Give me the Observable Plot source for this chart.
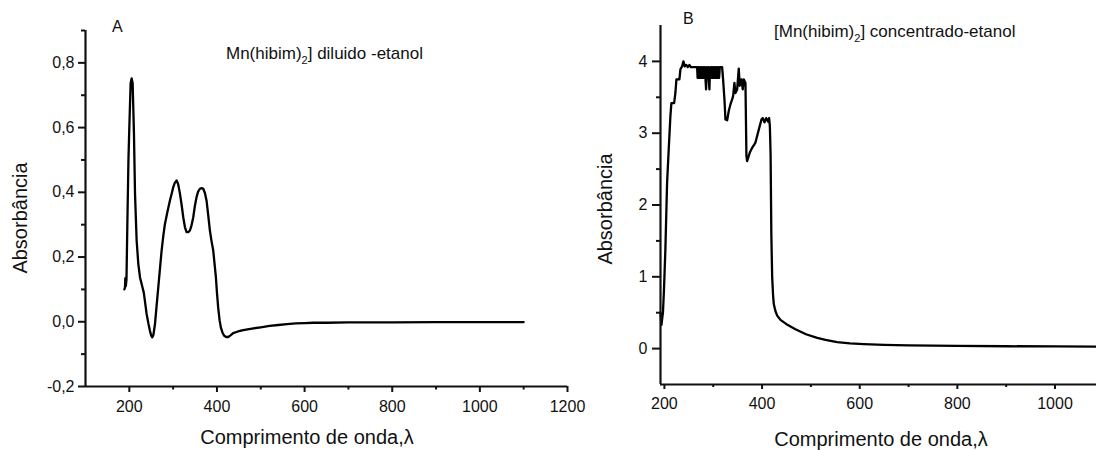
<!DOCTYPE html>
<html>
<head>
<meta charset="utf-8">
<script src="https://cdn.jsdelivr.net/npm/d3@7"></script>
<script src="https://cdn.jsdelivr.net/npm/@observablehq/plot@0.6"></script>
<style>
  html, body { margin: 0; padding: 0; background: #fff; }
  #wrap { position: relative; width: 1096px; height: 450px; overflow: hidden; background: #fff; display: flex; flex-direction: row; align-items: flex-start; }
  #wrap > svg.plotpanel { flex: none; display: block; }
  #overlay { position: absolute; left: 0; top: 0; pointer-events: none; }
</style>
</head>
<body>
<div id="wrap"></div>
<script>
// ---- Panel A: Mn(hibim)2 diluido - etanol ----
const waveA = [188.6, 190, 191, 192, 193.5, 195.5, 198, 200, 203, 205.3, 207.6, 210.6, 213, 216.7, 220.5, 224.4, 229, 233, 236, 239.5, 243.5, 247.1, 250, 252.4, 255, 258.6, 262, 266.1, 270, 273.7, 277.5, 281.4, 287, 292.7, 296.5, 300.3, 304, 307.9, 311.5, 315.5, 319.5, 323.1, 327, 330.7, 334.5, 338.3, 342, 345.9, 349.5, 353.4, 357, 361.1, 365, 368.7, 372.5, 376.2, 380, 383.9, 387.5, 391.5, 394.5, 397.6, 400, 402.8, 406, 409, 412.5, 416.5, 421, 425.6, 431, 437, 448, 460, 480, 500, 520, 540, 560, 580, 600, 620, 650, 700, 800, 900, 1000, 1100];
const absA  = [0.100, 0.105, 0.135, 0.110, 0.130, 0.300, 0.500, 0.600, 0.737, 0.752, 0.737, 0.580, 0.396, 0.251, 0.179, 0.137, 0.112, 0.090, 0.060, 0.024, -0.005, -0.028, -0.043, -0.048, -0.040, -0.007, 0.045, 0.106, 0.165, 0.220, 0.265, 0.303, 0.340, 0.375, 0.395, 0.416, 0.430, 0.437, 0.425, 0.396, 0.360, 0.323, 0.292, 0.277, 0.277, 0.282, 0.298, 0.323, 0.357, 0.385, 0.402, 0.411, 0.413, 0.411, 0.398, 0.375, 0.330, 0.282, 0.250, 0.220, 0.180, 0.137, 0.090, 0.044, 0.005, -0.018, -0.033, -0.043, -0.047, -0.047, -0.042, -0.035, -0.030, -0.026, -0.021, -0.017, -0.013, -0.010, -0.007, -0.005, -0.004, -0.003, -0.003, -0.002, -0.002, -0.001, -0.001, -0.001];

// ---- Panel B: [Mn(hibim)2] concentrado - etanol ----
const waveB = [192, 193, 194, 195.5, 197, 199, 202, 205.5, 208.8, 212.3, 214.3, 219.9, 222.5, 224.6, 230.7, 232.8, 236.2, 238.9, 241.7, 245.1, 247.8, 251.2, 254, 267, 268, 269.5, 270.5, 272, 273, 274.5, 276, 277, 278.5, 279.5, 281, 282.5, 284, 285.4, 286.5, 288, 289.5, 290.5, 292.2, 293.5, 295, 296.5, 297.5, 299, 300.5, 302, 303, 304.5, 306, 307.5, 309, 310.5, 312, 313.5, 315, 318.2, 320.2, 323, 325, 328.5, 331.8, 335.2, 338.7, 340.8, 343.4, 345.5, 349, 352.3, 354.3, 357.8, 360.5, 362.5, 366, 368, 369.4, 374.9, 380, 386.5, 393.3, 398.8, 401.5, 405, 408.4, 412.5, 414.5, 416, 417.5, 419, 420.7, 422.5, 424, 427.5, 431, 437.7, 450, 468.4, 490, 513, 530, 553.8, 580, 608, 650, 700, 800, 900, 1000, 1085];
const absB  = [0.50, 0.40, 0.33, 0.42, 0.50, 0.80, 1.38, 2.31, 2.77, 3.24, 3.42, 3.42, 3.56, 3.75, 3.75, 3.89, 3.93, 4.00, 3.93, 3.95, 3.92, 3.95, 3.92, 3.92, 3.77, 3.92, 3.77, 3.77, 3.92, 3.77, 3.92, 3.77, 3.77, 3.92, 3.77, 3.92, 3.77, 3.61, 3.92, 3.77, 3.92, 3.77, 3.61, 3.92, 3.77, 3.92, 3.77, 3.92, 3.77, 3.92, 3.77, 3.92, 3.77, 3.92, 3.77, 3.92, 3.77, 3.92, 3.92, 3.92, 3.75, 3.47, 3.19, 3.18, 3.31, 3.40, 3.47, 3.52, 3.70, 3.56, 3.61, 3.90, 3.66, 3.75, 3.61, 3.75, 3.70, 2.68, 2.61, 2.73, 2.80, 2.87, 3.05, 3.19, 3.21, 3.15, 3.21, 3.16, 3.21, 3.10, 2.70, 1.60, 1.00, 0.75, 0.62, 0.52, 0.46, 0.40, 0.34, 0.27, 0.20, 0.15, 0.12, 0.09, 0.072, 0.062, 0.053, 0.046, 0.038, 0.033, 0.030, 0.028];

// ticks
const xTicksA = [200, 400, 600, 800, 1000, 1200];
const xMinorA = [300, 500, 700, 900, 1100];
const yTicksA = [-0.2, 0, 0.2, 0.4, 0.6, 0.8];
const yMinorA = [-0.1, 0.1, 0.3, 0.5, 0.7, 0.9];
const xTicksB = [200, 400, 600, 800, 1000];
const xMinorB = [300, 500, 700, 900];
const yTicksB = [0, 1, 2, 3, 4];
const yMinorB = [0.5, 1.5, 2.5, 3.5];

const FONT = "'Liberation Sans', Arial, Helvetica, sans-serif";
const INK = "#111";
const commaFmt = d => d.toFixed(1).replace(".", ",");
const blank = () => "";

const dataA = waveA.map((w, i) => ({w, a: absA[i]}));
const dataB = waveB.map((w, i) => ({w, a: absB[i]}));

const baseStyle = {fontFamily: FONT, fontSize: "16px", color: INK, background: "transparent", overflow: "visible", maxWidth: "none"};
const tickOpts = {stroke: INK, strokeWidth: 2, label: null};

const plotA = Plot.plot({
  className: "panelA",
  width: 590, height: 450,
  marginLeft: 85, marginRight: 23, marginTop: 30, marginBottom: 64,
  x: {domain: [100, 1200], label: null},
  y: {domain: [-0.2, 0.9], label: null},
  style: baseStyle,
  marks: [
    Plot.line(dataA, {x: "w", y: "a", stroke: "#000", strokeWidth: 2.3, strokeLinejoin: "round"}),
    Plot.ruleX([100], {stroke: INK, strokeWidth: 2.2}),
    Plot.ruleY([-0.2], {stroke: INK, strokeWidth: 2.2}),
    Plot.axisX({...tickOpts, ticks: xTicksA, tickSize: 6, tickPadding: 8, tickFormat: d => String(d)}),
    Plot.axisX({...tickOpts, ticks: xMinorA, tickSize: 3.5, tickFormat: blank}),
    Plot.axisY({...tickOpts, ticks: yTicksA, tickSize: 7, tickPadding: 4, tickFormat: commaFmt}),
    Plot.axisY({...tickOpts, ticks: yMinorA, tickSize: 4, tickFormat: blank})
  ]
});

const plotB = Plot.plot({
  className: "panelB",
  width: 506, height: 450,
  marginLeft: 70, marginRight: 0, marginTop: 25, marginBottom: 66,
  x: {domain: [192, 1085], label: null},
  y: {domain: [-0.5, 4.5], label: null},
  style: baseStyle,
  marks: [
    Plot.line(dataB, {x: "w", y: "a", stroke: "#000", strokeWidth: 2.3, strokeLinejoin: "round"}),
    Plot.ruleX([192], {stroke: INK, strokeWidth: 2.2}),
    Plot.ruleY([-0.5], {stroke: INK, strokeWidth: 2.2}),
    Plot.axisX({...tickOpts, ticks: xTicksB, tickSize: 5, tickPadding: 8, tickFormat: d => String(d)}),
    Plot.axisX({...tickOpts, ticks: xMinorB, tickSize: 3, tickFormat: blank}),
    Plot.axisY({...tickOpts, ticks: yTicksB, tickSize: 8, tickPadding: 5, tickFormat: d => String(d)}),
    Plot.axisY({...tickOpts, ticks: yMinorB, tickSize: 4, tickFormat: blank})
  ]
});

const wrap = document.getElementById("wrap");
plotA.classList.add("plotpanel");
plotB.classList.add("plotpanel");
wrap.appendChild(plotA);
wrap.appendChild(plotB);

// text overlay (titles, panel letters, axis titles)
const ov = d3.select(wrap).append("svg")
  .attr("id", "overlay")
  .attr("width", 1096).attr("height", 450)
  .attr("font-family", FONT).attr("fill", INK);

ov.append("text").attr("x", 112).attr("y", 32).attr("font-size", 16).text("A");
ov.append("text").attr("x", 683).attr("y", 24).attr("font-size", 16).text("B");

const tA = ov.append("text").attr("x", 226).attr("y", 59).attr("font-size", 17);
tA.append("tspan").text("Mn(hibim)");
tA.append("tspan").attr("font-size", 11).attr("dy", 5).text("2");
tA.append("tspan").attr("dy", -5).text("] diluido -etanol");

const tB = ov.append("text").attr("x", 774).attr("y", 37).attr("font-size", 17);
tB.append("tspan").text("[Mn(hibim)");
tB.append("tspan").attr("font-size", 11).attr("dy", 5).text("2");
tB.append("tspan").attr("dy", -5).text("] concentrado-etanol");

ov.append("text").attr("transform", "translate(27,218) rotate(-90)")
  .attr("text-anchor", "middle").attr("font-size", 20).text("Absorbância");
ov.append("text").attr("transform", "translate(612,209) rotate(-90)")
  .attr("text-anchor", "middle").attr("font-size", 20).text("Absorbância");

ov.append("text").attr("x", 307).attr("y", 444).attr("text-anchor", "middle")
  .attr("font-size", 20).text("Comprimento de onda,λ");
ov.append("text").attr("x", 881).attr("y", 446).attr("text-anchor", "middle")
  .attr("font-size", 20).text("Comprimento de onda,λ");
</script>
</body>
</html>
